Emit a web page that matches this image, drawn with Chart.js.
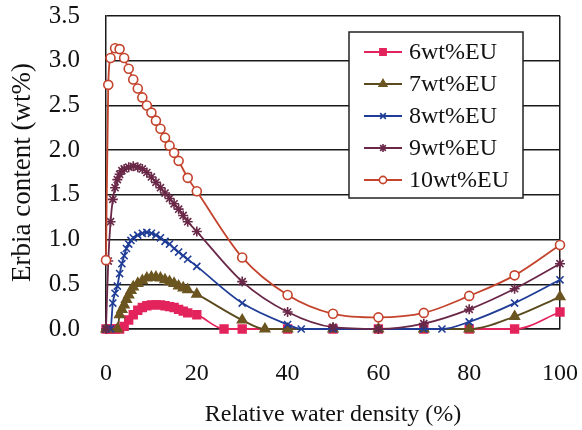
<!DOCTYPE html>
<html>
<head>
<meta charset="utf-8">
<script src="https://cdn.jsdelivr.net/npm/chart.js@4.4.1/dist/chart.umd.min.js"></script>
<style>
  html, body { margin: 0; padding: 0; background: #fff; }
  #wrap { width: 582px; height: 430px; }
</style>
</head>
<body>
<div id="wrap"><canvas id="chart" width="582" height="430"></canvas></div>
<script>
// tick labels
const xTicks = [0, 20, 40, 60, 80, 100];
const yTicks = [0, 0.5, 1.0, 1.5, 2.0, 2.5, 3.0, 3.5];

const seriesNames = ['6wt%EU', '7wt%EU', '8wt%EU', '9wt%EU', '10wt%EU'];

// 6wt%EU
const x6 = [0, 1, 2, 3, 4, 5, 6, 7, 8, 9, 10, 11, 12, 13, 14, 15, 16, 17, 18, 20, 26, 30, 40, 50, 60, 70, 80, 90, 100];
const y6 = [0, 0, 0, 0, 0.03, 0.10, 0.16, 0.21, 0.24, 0.26, 0.27, 0.27, 0.27, 0.26, 0.25, 0.24, 0.22, 0.20, 0.18, 0.16, 0, 0, 0, 0, 0, 0, 0, 0, 0.19];

// 7wt%EU
const x7 = [0, 2.5, 3, 3.5, 4, 4.5, 5, 5.5, 6, 7, 8, 9, 10, 11, 12, 13, 14, 15, 16, 17, 18, 20, 30, 35, 40, 50, 60, 70, 80, 90, 100];
const y7 = [0, 0, 0.16, 0.22, 0.27, 0.33, 0.38, 0.43, 0.47, 0.51, 0.54, 0.57, 0.58, 0.58, 0.57, 0.55, 0.53, 0.51, 0.48, 0.46, 0.44, 0.39, 0.10, 0, 0, 0, 0, 0, 0, 0.14, 0.36];

// 8wt%EU
const x8 = [0, 1, 1.5, 2, 2.5, 3, 3.5, 4, 4.5, 5, 5.5, 6, 7, 8, 9, 10, 11, 12, 13, 14, 15, 16, 17, 18, 20, 30, 40, 43, 50, 60, 70, 74, 80, 90, 100];
const y8 = [0, 0, 0.29, 0.40, 0.48, 0.62, 0.73, 0.82, 0.90, 0.95, 0.99, 1.02, 1.05, 1.07, 1.08, 1.07, 1.05, 1.02, 0.98, 0.95, 0.90, 0.86, 0.82, 0.78, 0.70, 0.29, 0.05, 0, 0, 0, 0, 0, 0.08, 0.29, 0.55];

// 9wt%EU
const x9 = [0, 0.5, 1, 1.5, 2, 2.5, 3, 3.5, 4, 5, 6, 7, 8, 9, 10, 11, 12, 13, 14, 15, 16, 17, 18, 20, 30, 40, 50, 60, 70, 80, 90, 100];
const y9 = [0, 0.76, 1.20, 1.45, 1.58, 1.67, 1.73, 1.77, 1.79, 1.81, 1.82, 1.81, 1.79, 1.75, 1.70, 1.64, 1.58, 1.52, 1.46, 1.40, 1.34, 1.27, 1.20, 1.09, 0.53, 0.19, 0.02, 0, 0.06, 0.22, 0.45, 0.73];

// 10wt%EU
const x10 = [0, 0.5, 1, 2, 3, 4, 5, 6, 7, 8, 9, 10, 11, 12, 13, 14, 15, 16, 18, 20, 30, 40, 50, 60, 70, 80, 90, 100];
const y10 = [0.77, 2.73, 3.03, 3.14, 3.13, 3.03, 2.91, 2.79, 2.69, 2.59, 2.50, 2.42, 2.33, 2.24, 2.14, 2.05, 1.97, 1.88, 1.69, 1.54, 0.80, 0.38, 0.17, 0.13, 0.18, 0.37, 0.60, 0.94];

const pts = (xs, ys) => xs.map((x, i) => ({ x: x, y: ys[i] }));

const serif = '"Liberation Serif", "DejaVu Serif", serif';

function serie(i, xs, ys, line, fill, style, radius) {
    return {
        label: seriesNames[i],
        data: pts(xs, ys),
        borderColor: line,
        borderWidth: 1.8,
        pointStyle: style,
        pointRadius: radius,
        pointBackgroundColor: fill,
        pointBorderColor: style === 'circle' ? line : fill,
        pointBorderWidth: 1.6,
        cubicInterpolationMode: 'monotone',
        clip: false,
        order: 4 - i
    };
}

// legend drawn inside the plot, like the original
const boxLegend = {
    id: 'boxLegend',
    afterDraw(chart) {
        const ctx = chart.ctx;
        const left = 349, top = 32, w = 174, h = 166;
        ctx.save();
        ctx.fillStyle = '#fff';
        ctx.fillRect(left, top, w, h);
        ctx.strokeStyle = '#222';
        ctx.lineWidth = 1.5;
        ctx.strokeRect(left, top, w, h);
        chart.data.datasets.forEach((ds, i) => {
            const y = top + 20 + i * 32;
            ctx.strokeStyle = ds.borderColor;
            ctx.lineWidth = 2;
            ctx.beginPath();
            ctx.moveTo(left + 15, y);
            ctx.lineTo(left + 53, y);
            ctx.stroke();
            ctx.fillStyle = ds.pointBackgroundColor;
            ctx.strokeStyle = ds.pointBorderColor;
            ctx.lineWidth = ds.pointBorderWidth;
            if (Chart.helpers && Chart.helpers.drawPoint) {
                Chart.helpers.drawPoint(ctx, { pointStyle: ds.pointStyle, radius: ds.pointRadius * 0.8, borderWidth: ds.pointBorderWidth, rotation: 0 }, left + 34, y);
            }
            ctx.fillStyle = '#111';
            ctx.font = '24px ' + serif;
            ctx.textBaseline = 'middle';
            ctx.textAlign = 'left';
            ctx.fillText(ds.label, left + 60, y + 1);
        });
        ctx.restore();
    }
};

new Chart(document.getElementById('chart').getContext('2d'), {
    type: 'line',
    data: {
        datasets: [
            serie(0, x6, y6, '#e3245c', '#e3245c', 'rect', 5.5),
            serie(1, x7, y7, '#5a4a1e', '#6b5520', 'triangle', 5.5),
            serie(2, x8, y8, '#1f3c96', '#1f3c96', 'crossRot', 5),
            serie(3, x9, y9, '#6a2848', '#6a2848', 'star', 5),
            serie(4, x10, y10, '#c4432c', '#ffffff', 'circle', 4.5)
        ]
    },
    options: {
        responsive: false,
        animation: false,
        devicePixelRatio: 1,
        layout: { padding: { top: 16, right: 22, left: 0, bottom: 0 } },
        plugins: { legend: { display: false }, tooltip: { enabled: false } },
        scales: {
            x: {
                type: 'linear',
                min: 0,
                max: 100,
                afterBuildTicks: s => { s.ticks = xTicks.map(v => ({ value: v })); },
                afterFit: s => { s.height = 101; s.paddingLeft = 0; s.paddingRight = 0; },
                grid: {
                    drawTicks: false,
                    color: c => c.tick && c.tick.value === 100 ? '#1a1a1a' : 'rgba(0,0,0,0)',
                    lineWidth: 1.5
                },
                border: { color: '#1a1a1a', width: 1.5 },
                ticks: { padding: 30, color: '#111', font: { family: serif, size: 24 }, maxRotation: 0 },
                title: {
                    display: true,
                    text: 'Relative water density (%)',
                    color: '#111',
                    font: { family: serif, size: 24 },
                    padding: { top: 0, bottom: 1 }
                }
            },
            y: {
                min: 0,
                max: 3.5,
                afterBuildTicks: s => { s.ticks = yTicks.map(v => ({ value: v })); },
                afterFit: s => { s.width = 106; s.paddingTop = 0; s.paddingBottom = 0; },
                grid: { drawTicks: false, color: '#1a1a1a', lineWidth: 1.5 },
                border: { color: '#1a1a1a', width: 1.5 },
                ticks: {
                    padding: 26,
                    color: '#111',
                    font: { family: serif, size: 25 },
                    callback: v => v.toFixed(1)
                },
                title: {
                    display: true,
                    text: 'Erbia content (wt%)',
                    color: '#111',
                    font: { family: serif, size: 27 },
                    padding: { top: 7, bottom: 0 }
                }
            }
        }
    },
    plugins: [boxLegend]
});
</script>
</body>
</html>
